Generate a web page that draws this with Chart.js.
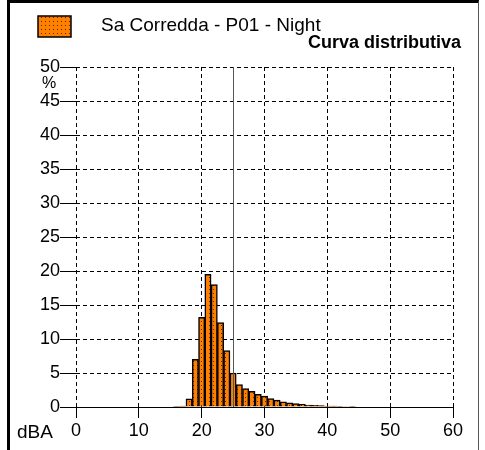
<!DOCTYPE html>
<html>
<head>
<meta charset="utf-8">
<script src="https://cdn.jsdelivr.net/npm/chart.js@4.4.1/dist/chart.umd.min.js"></script>
<style>
  html, body { margin: 0; padding: 0; background: #fff; }
  #wrap { position: relative; width: 485px; height: 450px; }
  #frame {
    position: absolute; left: 7px; top: 0; width: 472px; height: 450px;
    border-top: 3px solid #000; border-left: 3px solid #000; border-right: 1px solid #555;
    box-sizing: border-box; pointer-events: none;
  }
  canvas { position: absolute; left: 0; top: 0; }
</style>
</head>
<body>
<div id="wrap">
  <canvas id="chart" width="485" height="450"></canvas>
  <div id="frame"></div>
</div>
<script>
// Distribution of night-time levels (% of time per 1 dBA class)
const seriesLabel = 'Sa Corredda - P01 - Night';
const chartTitle = 'Curva distributiva';
const levels = [16, 17, 18, 19, 20, 21, 22, 23, 24, 25, 26, 27, 28, 29, 30,
  31, 32, 33, 34, 35, 36, 37, 38, 39, 40, 41, 42, 43, 44];
const percent = [0.05, 0.15, 1.2, 7.0, 13.2, 19.5, 18.0, 12.4, 8.3, 5.0, 3.3, 2.7, 2.3, 1.85, 1.6,
  1.25, 1.0, 0.75, 0.6, 0.5, 0.4, 0.3, 0.25, 0.2, 0.15, 0.12, 0.1, 0.08, 0.06];
const markerLevel = 25;
const yUnit = '%';
const xUnit = 'dBA';

const ctx = document.getElementById('chart').getContext('2d');
const font = 'Liberation Sans, Arial, Helvetica, sans-serif';

// orange fill with small dark dots
function makePattern() {
  const c = document.createElement('canvas');
  c.width = 4; c.height = 4;
  const g = c.getContext('2d');
  g.fillStyle = '#ff8000';
  g.fillRect(0, 0, 4, 4);
  g.fillStyle = '#5a2a00';
  g.fillRect(1, 1, 1, 1);
  return ctx.createPattern(c, 'repeat');
}
const dotted = makePattern();

const overlay = {
  id: 'overlay',
  beforeDatasetsDraw(chart) {
    // solid baseline (grid lines are dashed)
    const { ctx, chartArea } = chart;
    const y = Math.round(chartArea.bottom) + 0.5;
    ctx.save();
    ctx.strokeStyle = '#000';
    ctx.lineWidth = 1;
    ctx.beginPath();
    ctx.moveTo(chartArea.left, y);
    ctx.lineTo(chartArea.right, y);
    ctx.stroke();
    ctx.restore();
  },
  afterDatasetsDraw(chart) {
    const { ctx, chartArea } = chart;
    const x = Math.round(chart.scales.x.getPixelForValue(markerLevel)) + 0.5;
    ctx.save();
    ctx.strokeStyle = '#555';
    ctx.lineWidth = 1;
    ctx.beginPath();
    ctx.moveTo(x, chartArea.top);
    ctx.lineTo(x, chartArea.bottom);
    ctx.stroke();
    ctx.restore();
  },
  afterDraw(chart) {
    const c = chart.ctx;
    c.save();
    // legend box
    c.fillStyle = dotted;
    c.fillRect(38, 16, 33, 21);
    c.strokeStyle = '#000';
    c.lineWidth = 1.5;
    c.strokeRect(38, 16, 33, 21);
    c.fillStyle = '#000';
    c.textBaseline = 'alphabetic';
    c.font = '19px ' + font;
    c.textAlign = 'left';
    c.fillText(chart.data.datasets[0].label, 101, 31);
    c.font = 'bold 18px ' + font;
    c.textAlign = 'right';
    c.fillText(chartTitle, 461, 48);
    c.font = '16px ' + font;
    c.textAlign = 'center';
    c.fillText(yUnit, 49, 88);
    c.font = '19px ' + font;
    c.textAlign = 'left';
    c.fillText(xUnit, 17, 438);
    c.restore();
  }
};

new Chart(ctx, {
  type: 'bar',
  data: {
    datasets: [{
      label: seriesLabel,
      data: levels.map((l, i) => ({ x: l, y: percent[i] })),
      backgroundColor: dotted,
      borderColor: '#000',
      borderWidth: 1.5,
      barPercentage: 1,
      categoryPercentage: 1,
    }],
  },
  options: {
    responsive: false,
    animation: false,
    layout: { padding: { left: 0, right: 32, top: 67, bottom: 0 } },
    plugins: {
      legend: { display: false },
      title: { display: false },
      tooltip: { enabled: false },
    },
    scales: {
      x: {
        type: 'linear',
        min: 0,
        max: 60,
        offset: false,
        grid: {
          offset: false,
          color: '#000',
          tickColor: '#000',
          tickLength: 11,
          tickBorderDash: [],
        },
        border: { display: false, dash: [4, 3] },
        ticks: { stepSize: 10, color: '#000', padding: 2, font: { family: font, size: 18 } },
        afterFit(scale) { scale.height = 43; },
      },
      y: {
        min: 0,
        max: 50,
        grid: {
          color: '#000',
          tickColor: '#000',
          tickLength: 16,
          tickBorderDash: [],
        },
        border: { display: false, dash: [4, 3] },
        ticks: { stepSize: 5, color: '#000', padding: 0, font: { family: font, size: 18 } },
        afterFit(scale) { scale.width = 76; },
      },
    },
  },
  plugins: [overlay],
});
</script>
</body>
</html>
